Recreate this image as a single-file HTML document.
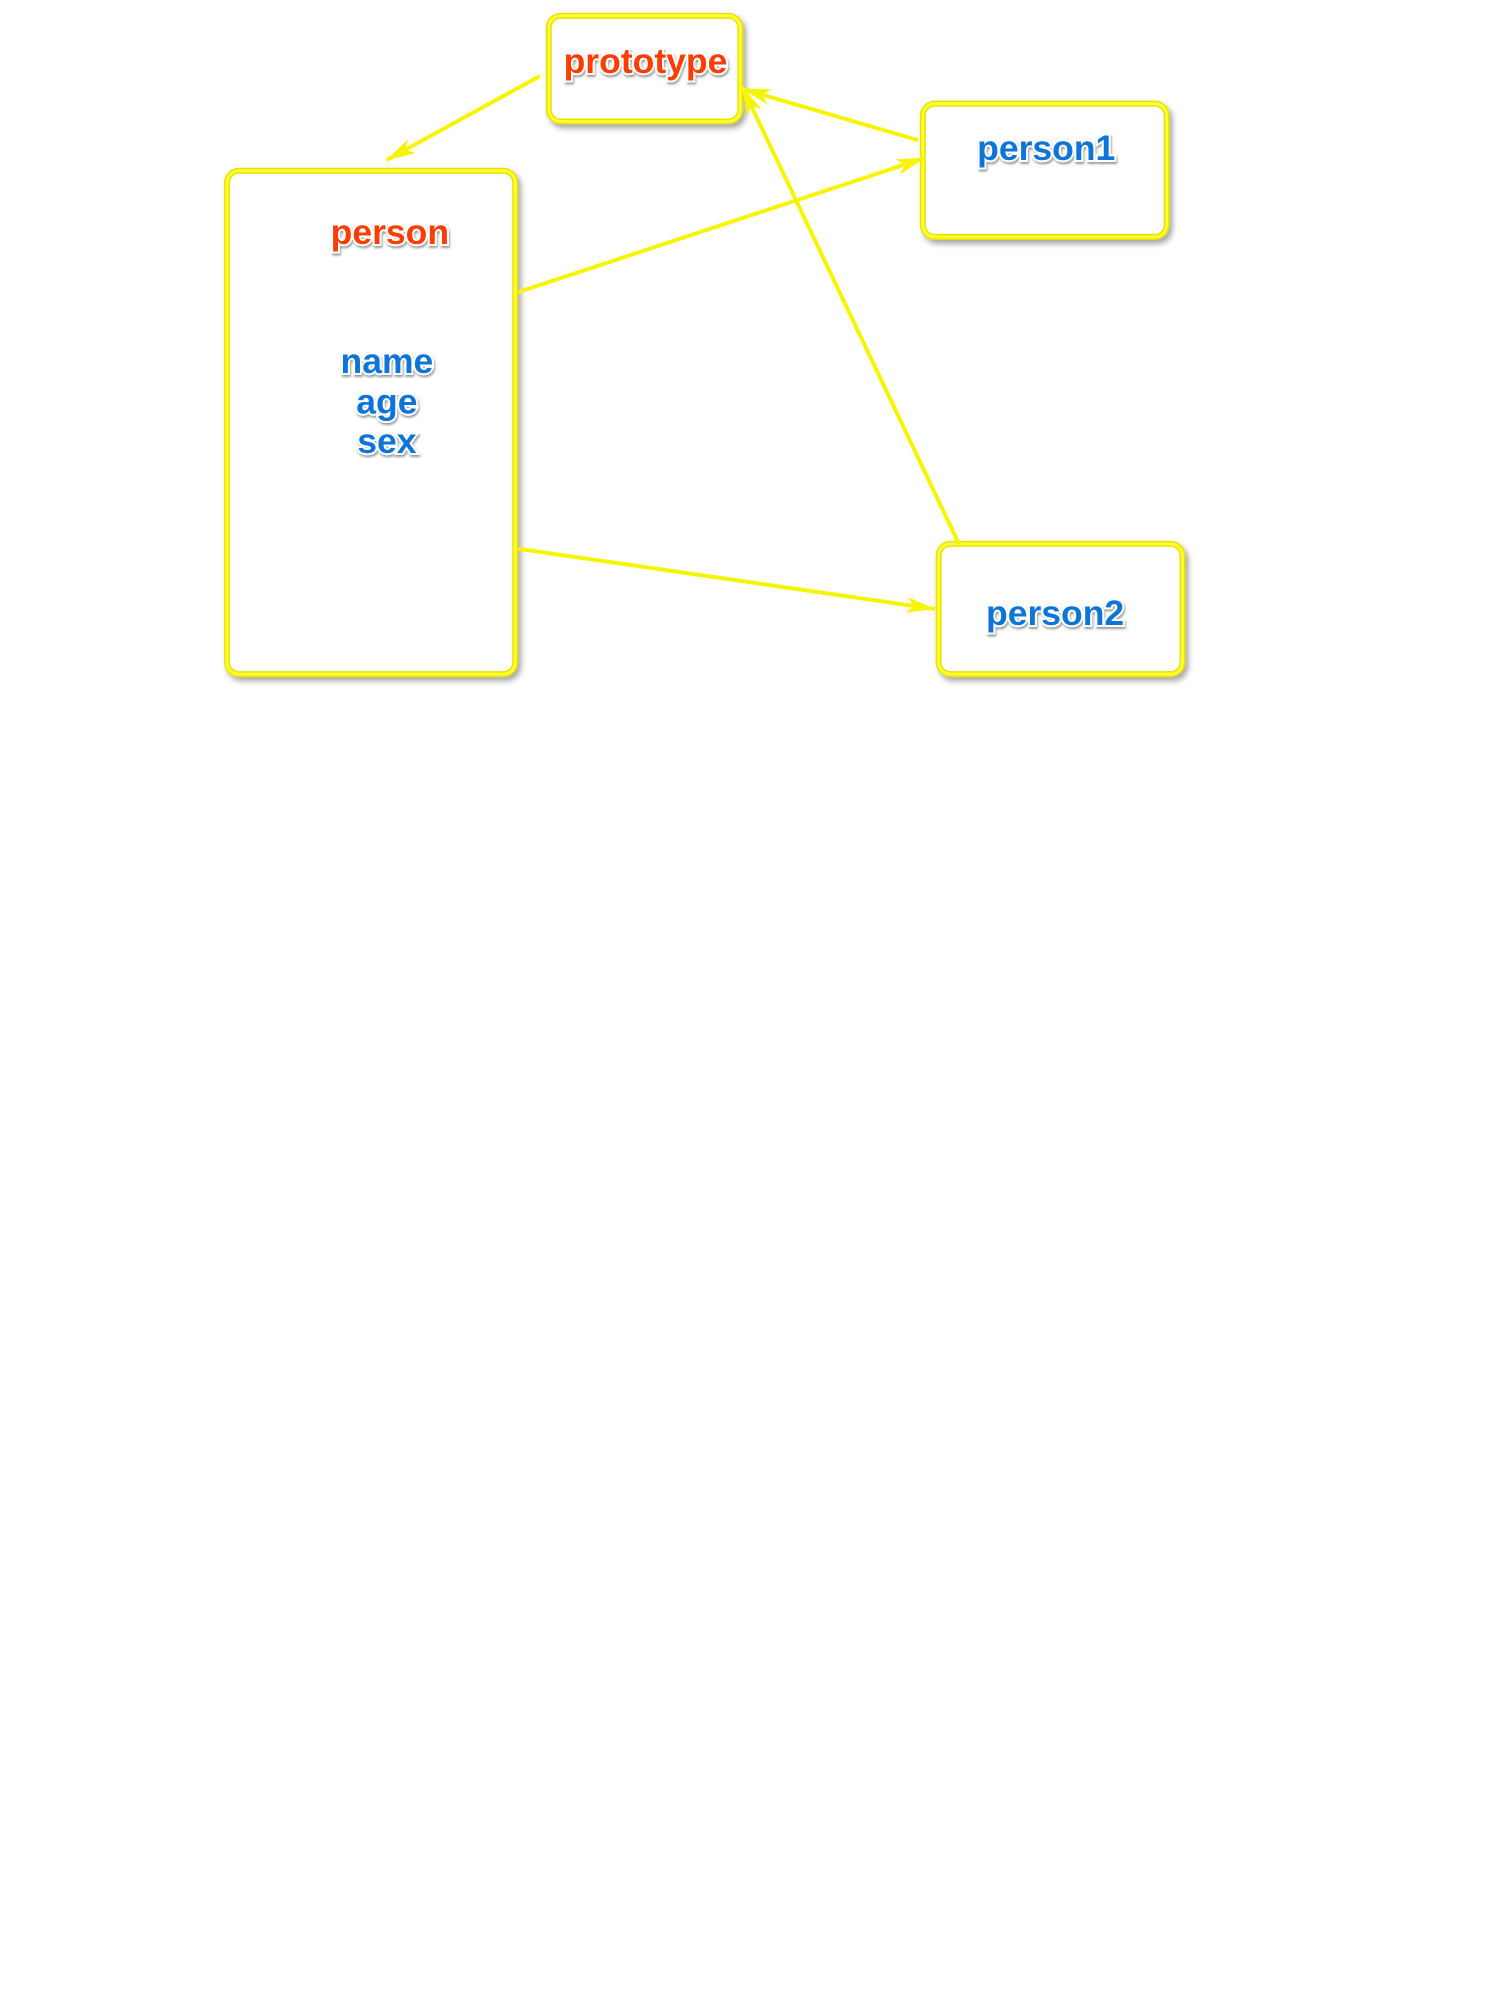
<!DOCTYPE html>
<html><head><meta charset="utf-8"><style>
html,body{margin:0;padding:0;background:#fff;}
svg text{font-family:"Liberation Sans",sans-serif;font-weight:bold;text-anchor:middle;paint-order:stroke;stroke:#fff;stroke-width:4px;}
</style></head><body>
<svg width="1500" height="2000" viewBox="0 0 1500 2000" xmlns="http://www.w3.org/2000/svg">
<defs>
<filter id="sh" x="-20%" y="-20%" width="140%" height="140%"><feDropShadow dx="3" dy="4" stdDeviation="3" flood-color="#000" flood-opacity="0.35"/></filter>
<filter id="ts"><feDropShadow dx="1" dy="2" stdDeviation="1" flood-color="#000" flood-opacity="0.4"/></filter>
<marker id="ah" viewBox="0 0 30 16" refX="29" refY="8" markerWidth="30" markerHeight="16" markerUnits="userSpaceOnUse" orient="auto">
<path d="M0,0 L30,8 L0,16 L8,8 Z" fill="#f5f500"/>
</marker>
</defs>
<g transform="scale(0.987)">
<g fill="#fff" stroke="#e8e000" stroke-width="6" filter="url(#sh)">
<rect x="556" y="16" width="194" height="107" rx="12"/>
<rect x="230" y="173" width="292" height="510" rx="12"/>
<rect x="935" y="105" width="247" height="135" rx="12"/>
<rect x="951" y="551" width="247" height="132" rx="12"/>
</g>
<g fill="none" stroke="#ffff30" stroke-width="3">
<rect x="556" y="16" width="194" height="107" rx="12"/>
<rect x="230" y="173" width="292" height="510" rx="12"/>
<rect x="935" y="105" width="247" height="135" rx="12"/>
<rect x="951" y="551" width="247" height="132" rx="12"/>
</g>
<g stroke="#f5f500" stroke-width="4" fill="none">
<line x1="547" y1="77" x2="392" y2="162" marker-end="url(#ah)"/>
<line x1="930" y1="142" x2="752" y2="90" marker-end="url(#ah)"/>
<line x1="525" y1="296" x2="937" y2="160" marker-end="url(#ah)"/>
<line x1="972" y1="552" x2="752" y2="88" marker-end="url(#ah)"/>
<line x1="525" y1="556" x2="947" y2="617" marker-end="url(#ah)"/>
</g>
<g filter="url(#ts)" font-size="36">
<text x="654" y="74" fill="#ff3c00">prototype</text>
<text x="395" y="247" fill="#ff3c00">person</text>
<text x="392" y="378" fill="#0a74d8">name</text>
<text x="392" y="419" fill="#0a74d8">age</text>
<text x="392" y="459" fill="#0a74d8">sex</text>
<text x="1060" y="162" fill="#0a74d8">person1</text>
<text x="1069" y="633" fill="#0a74d8">person2</text>
</g>
</g>
</svg>
</body></html>
